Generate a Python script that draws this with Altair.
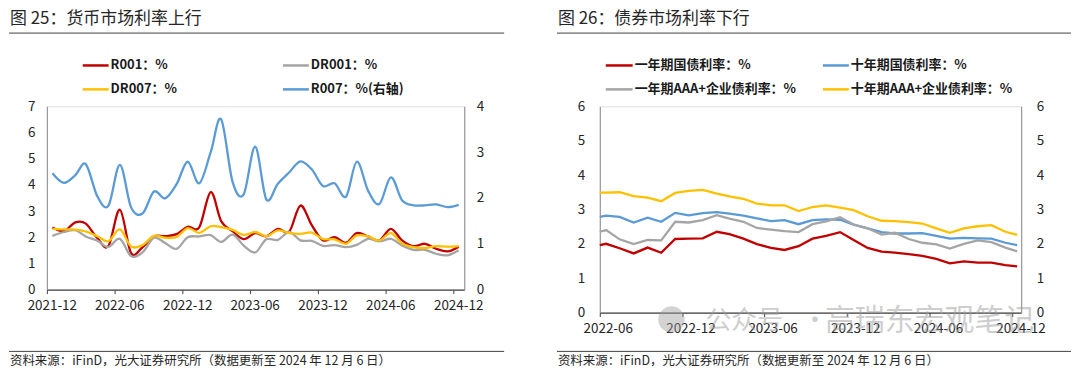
import altair as alt
import pandas as pd

FONT = "Noto Sans CJK SC"
TXT = "#262626"
AXG = "#8C8C8C"
RED, GRAY, YEL, BLUE = "#C00000", "#A5A5A5", "#FFC000", "#5B9BD5"

# ---------------- 图25 货币市场利率 (monthly) ----------------
money_dates = [
    "2021-12-16",
    "2022-01-16", "2022-02-16", "2022-03-16", "2022-04-16", "2022-05-16", "2022-06-16",
    "2022-07-16", "2022-08-16", "2022-09-16", "2022-10-16", "2022-11-16", "2022-12-16",
    "2023-01-16", "2023-02-16", "2023-03-16", "2023-04-16", "2023-05-16", "2023-06-16",
    "2023-07-16", "2023-08-16", "2023-09-16", "2023-10-16", "2023-11-16", "2023-12-16",
    "2024-01-16", "2024-02-16", "2024-03-16", "2024-04-16", "2024-05-16", "2024-06-16",
    "2024-07-16", "2024-08-16", "2024-09-16", "2024-10-16", "2024-11-16", "2024-12-16",
]
r001 = [2.37, 2.24, 2.57, 2.52, 1.97, 1.66, 3.05, 1.40, 1.62, 2.03, 2.04, 2.12, 2.40,
        2.38, 3.72, 2.62, 2.23, 1.93, 2.16, 2.04, 2.32, 2.22, 3.21, 2.45, 1.88,
        2.00, 1.79, 2.16, 2.03, 1.88, 2.32, 1.88, 1.66, 1.75, 1.56, 1.46, 1.64]
dr001 = [2.05, 2.20, 2.27, 2.03, 1.87, 1.63, 1.94, 1.28, 1.42, 1.98, 1.78, 1.56, 2.00,
         2.03, 2.08, 1.82, 2.10, 1.68, 1.42, 1.92, 1.90, 2.20, 1.88, 1.86, 1.67,
         1.70, 1.62, 1.71, 1.94, 1.84, 1.94, 1.69, 1.52, 1.52, 1.37, 1.31, 1.50]
dr007 = [2.32, 2.30, 2.29, 2.22, 2.04, 1.85, 2.30, 1.65, 1.70, 2.05, 1.98, 2.01, 2.35,
         2.17, 2.42, 2.39, 2.28, 2.09, 2.20, 2.04, 2.26, 2.16, 2.13, 2.18, 1.93,
         1.92, 1.75, 2.07, 2.03, 1.88, 2.16, 1.76, 1.62, 1.59, 1.66, 1.64, 1.66]
r007 = [2.54, 2.33, 2.50, 2.74, 2.04, 1.83, 2.72, 1.80, 1.66, 2.14, 1.99, 2.30, 2.79,
        2.32, 3.00, 3.72, 2.35, 2.08, 3.12, 1.97, 2.31, 2.56, 2.80, 2.62, 2.26,
        2.32, 2.03, 2.79, 2.15, 1.87, 2.45, 1.95, 1.84, 1.84, 1.86, 1.80, 1.85]
money_names = ["R001：%", "DR001：%", "DR007：%", "R007：%(右轴)"]
money_ticks = [(2021, 12), (2022, 6), (2022, 12), (2023, 6), (2023, 12), (2024, 6), (2024, 12)]

# ---------------- 图26 债券市场利率 ----------------
bond_dates = [
    "2022-06-01",
    "2022-06-15", "2022-07-15", "2022-08-15", "2022-09-15", "2022-10-15", "2022-11-15",
    "2022-12-15", "2023-01-15", "2023-02-15", "2023-03-15", "2023-04-15", "2023-05-15",
    "2023-06-15", "2023-07-15", "2023-08-15", "2023-09-15", "2023-10-15", "2023-11-15",
    "2023-12-15", "2024-01-15", "2024-02-15", "2024-03-15", "2024-04-15", "2024-05-15",
    "2024-06-15", "2024-07-15", "2024-08-15", "2024-09-15", "2024-10-15", "2024-11-15",
    "2024-12-11",
]
gov1y = [1.96, 2.00, 1.87, 1.72, 1.89, 1.74, 2.14, 2.15, 2.16, 2.35, 2.28, 2.15, 1.99,
         1.88, 1.82, 1.93, 2.15, 2.23, 2.34, 2.11, 1.88, 1.77, 1.74, 1.70, 1.65,
         1.56, 1.43, 1.49, 1.45, 1.45, 1.38, 1.34]
gov10y = [2.78, 2.82, 2.78, 2.62, 2.76, 2.64, 2.90, 2.83, 2.89, 2.92, 2.88, 2.82, 2.74,
          2.66, 2.69, 2.57, 2.69, 2.71, 2.70, 2.56, 2.45, 2.34, 2.30, 2.30, 2.31,
          2.23, 2.15, 2.17, 2.16, 2.15, 2.03, 1.96]
aaa1y = [2.35, 2.40, 2.13, 1.99, 2.11, 2.10, 2.64, 2.62, 2.69, 2.83, 2.73, 2.64, 2.46,
         2.41, 2.37, 2.34, 2.57, 2.65, 2.77, 2.56, 2.45, 2.27, 2.32, 2.14, 2.03,
         1.98, 1.86, 2.00, 2.10, 2.05, 1.89, 1.78]
aaa10y = [3.49, 3.49, 3.50, 3.39, 3.34, 3.24, 3.48, 3.54, 3.57, 3.46, 3.38, 3.31, 3.17,
          3.12, 3.12, 2.95, 3.07, 3.12, 3.05, 2.98, 2.80, 2.67, 2.66, 2.63, 2.59,
          2.45, 2.32, 2.45, 2.51, 2.54, 2.35, 2.26]
bond_names = ["一年期国债利率：%", "十年期国债利率：%", "一年期AAA+企业债利率：%", "十年期AAA+企业债利率：%"]
bond_ticks = [(2022, 6), (2022, 12), (2023, 6), (2023, 12), (2024, 6), (2024, 12)]

titles = ["图 25：货币市场利率上行", "图 26：债券市场利率下行"]
source = "资料来源：iFinD，光大证券研究所（数据更新至 2024 年 12 月 6 日）"
watermark = ["公众号", "·", "高瑞东宏观笔记"]

LW, LH = 419, 184
RW, RH = 423, 207
ONE = pd.DataFrame({"k": [0]})


def dt(y, m, d=1):
    return alt.DateTime(year=y, month=m, date=d, utc=True)


def xenc(domain, ticks, offset):
    return alt.X(
        "date:T", title=None,
        scale=alt.Scale(type="utc", domain=domain, nice=False),
        axis=alt.Axis(values=[dt(y, m) for y, m in ticks], format="%Y-%m", grid=False,
                      labelFont=FONT, labelFontSize=13.5, labelColor=TXT, labelFlush=False,
                      labelOverlap=False, labelOffset=offset, labelPadding=5,
                      tickSize=4, tickColor="#404040", domainColor="#404040", domainWidth=1.2),
    )


def yenc(top, orient, pad):
    return alt.Y(
        "value:Q", title=None,
        scale=alt.Scale(domain=[0, top], nice=False),
        axis=alt.Axis(values=list(range(top + 1)), orient=orient, grid=False, ticks=False,
                      domainColor=AXG, domainWidth=1, labelFont=FONT, labelFontSize=13.5,
                      labelColor=TXT, labelPadding=pad, labelOverlap=False, labelFlush=False),
    )


def line(dates, vals, color, x, y, interp):
    df = pd.DataFrame({"date": dates, "value": vals})
    return alt.Chart(df).mark_line(color=color, strokeWidth=2.3, interpolate=interp).encode(x=x, y=y)


def text(x, y, s, size, weight="normal", color=TXT, opacity=1.0):
    return alt.Chart(ONE).mark_text(
        text=s, align="left", baseline="middle", font=FONT, fontSize=size,
        fontWeight=weight, color=color, opacity=opacity,
    ).encode(x=alt.value(x), y=alt.value(y))


def hrule(x1, x2, y, color="#404040", width=1.0):
    return alt.Chart(ONE).mark_rule(color=color, strokeWidth=width).encode(
        x=alt.value(x1), x2=alt.value(x2), y=alt.value(y))


def decor(title, x0, x1, legend):
    parts = [
        text(x0 + 1, -88, title, 17),
        hrule(x0, x1, -73.5),
        hrule(x0, x1, 246),
        text(x0 + 1, 256, source, 12.5),
    ]
    for lx1, lx2, ly, col, name in legend:
        parts.append(hrule(lx1, lx2, ly, col, 2.5))
        parts.append(text(lx2 + 2, ly, name, 13, "bold", "#1a1a1a"))
    return parts


# ---------------- left panel ----------------
xL = xenc([dt(2021, 12), dt(2024, 12, 31)], money_ticks, 5)
yL = yenc(7, "left", 12)
yR = yenc(4, "right", 12)
left_lines = alt.layer(
    line(money_dates, r001, RED, xL, yL, "cardinal"),
    line(money_dates, dr001, GRAY, xL, yL, "cardinal"),
    line(money_dates, dr007, YEL, xL, yL, "cardinal"),
)
left_blue = line(money_dates, r007, BLUE, xL, yR, "cardinal")
left_legend = [
    (36, 62, -41, RED, money_names[0]),
    (237, 263, -41, GRAY, money_names[1]),
    (36, 62, -17, YEL, money_names[2]),
    (237, 263, -17, BLUE, money_names[3]),
]
left = alt.layer(
    alt.layer(left_lines, left_blue).resolve_scale(y="independent"),
    *decor(titles[0], -38, 459, left_legend),
).properties(width=LW, height=LH)

# ---------------- right panel ----------------
xB = xenc([dt(2022, 6), dt(2024, 12, 20)], bond_ticks, 8)
yBL = yenc(6, "left", 15)
yBR = yenc(6, "right", 15)
right_main = alt.layer(
    line(bond_dates, gov1y, RED, xB, yBL, "linear"),
    line(bond_dates, gov10y, BLUE, xB, yBL, "linear"),
    line(bond_dates, aaa1y, GRAY, xB, yBL, "linear"),
)
right_sec = line(bond_dates, aaa10y, YEL, xB, yBR, "linear")
right_legend = [
    (6, 33, -41, RED, bond_names[0]),
    (224, 250, -41, BLUE, bond_names[1]),
    (6, 33, -17, GRAY, bond_names[2]),
    (224, 250, -17, YEL, bond_names[3]),
]
wm_icon = alt.Chart(ONE).mark_point(shape="circle", filled=True, size=700, color="#9E9E9E",
                                     opacity=0.45).encode(x=alt.value(72), y=alt.value(214))
wm = [
    wm_icon,
    text(106, 216, watermark[0], 26, color="#9E9E9E", opacity=0.5),
    text(203, 216, watermark[1], 26, color="#9E9E9E", opacity=0.5),
    text(226, 216, watermark[2], 30, color="#9E9E9E", opacity=0.5),
]
right = alt.layer(
    alt.layer(right_main, right_sec).resolve_scale(y="independent"),
    *decor(titles[1], -43, 473, right_legend),
    *wm,
).properties(width=RW, height=RH)

chart = (
    alt.hconcat(left, right, spacing=51)
    .properties(padding={"left": 0, "top": 0, "right": 0, "bottom": 0})
    .configure_view(stroke=None)
    .configure(background="white")
)
chart.save("out.html", embed_options={"renderer": "svg", "actions": False})
